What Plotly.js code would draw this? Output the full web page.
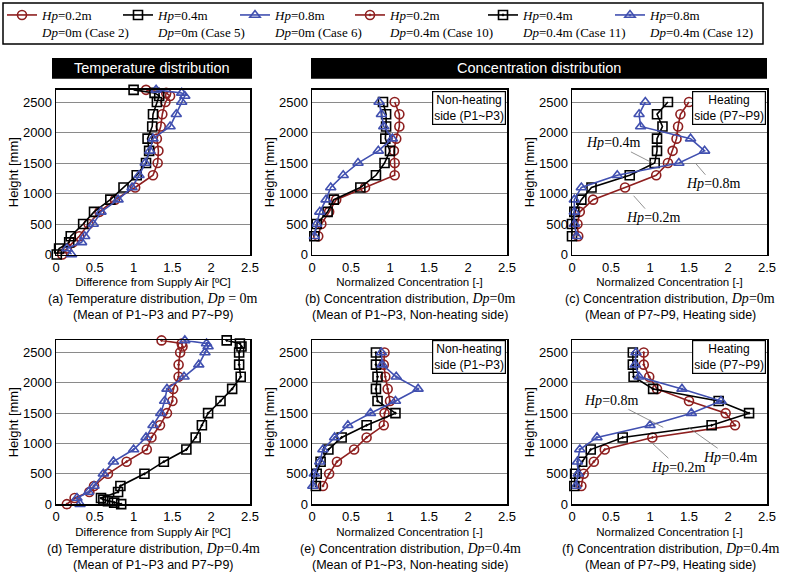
<!DOCTYPE html>
<html><head><meta charset="utf-8">
<script src="https://cdn.plot.ly/plotly-3.0.1.min.js"></script>
<style>html,body{margin:0;padding:0;background:#fff}</style>
</head><body><div id="chart" style="width:789px;height:578px"></div>
<script>
// ---------- DATA ----------
const xTicks = [0, 0.5, 1, 1.5, 2, 2.5];
const yTicks = [0, 500, 1000, 1500, 2000, 2500];
// Temperature heights (mm)
const hT = [0,100,200,300,500,700,900,1100,1300,1500,1700,1900,2100,2300,2500,2600,2650,2700];
const hT11 = [0,25,50,75,100,200,300,500,700,900,1100,1300,1500,1700,1900,2100,2300,2500,2600,2650,2700];
// Concentration heights (mm)
const hC = [300,500,700,900,1100,1300,1500,1700,1900,2100,2300,2500];

// (a) Temperature, Dp=0m
const tempA_case2 = [0.08,0.14,0.22,0.30,0.42,0.56,0.76,1.02,1.25,1.31,1.32,1.30,1.35,1.37,1.41,1.47,1.42,1.16];
const tempA_case5 = [0.01,0.04,0.17,0.19,0.35,0.49,0.70,0.87,1.04,1.16,1.20,1.18,1.24,1.25,1.30,1.33,1.27,1.00];
const tempA_case6 = [0.20,0.14,0.33,0.37,0.48,0.58,0.80,0.98,1.07,1.15,1.21,1.25,1.47,1.55,1.62,1.66,1.62,1.29];
// (b) Concentration non-heating, Dp=0m
const concB_case2 = [0.08,0.12,0.22,0.31,0.68,1.06,1.06,1.05,1.08,1.12,1.12,1.06];
const concB_case5 = [0.03,0.06,0.20,0.28,0.62,0.82,0.93,1.00,0.94,0.95,0.95,0.91];
const concB_case6 = [0.03,0.06,0.10,0.18,0.24,0.40,0.59,0.85,1.03,0.92,0.89,0.86];
// (c) Concentration heating, Dp=0m
const concC_case2 = [0.08,0.07,0.10,0.27,0.68,1.08,1.23,1.29,1.34,1.36,1.39,1.50];
const concC_case5 = [0.00,0.00,0.03,0.12,0.25,0.74,1.06,1.09,1.09,1.16,1.09,1.23];
const concC_case6 = [0.06,0.03,0.03,0.03,0.12,0.58,1.37,1.70,1.52,0.88,0.86,0.94];
// (d) Temperature, Dp=0.4m
const tempD_case10 = [0.14,0.24,0.43,0.49,0.67,0.91,1.17,1.23,1.34,1.43,1.50,1.51,1.58,1.58,1.60,1.63,1.62,1.36];
const tempD_case11 = [0.84,0.75,0.67,0.61,0.58,0.80,0.83,1.14,1.39,1.68,1.80,1.88,1.96,2.12,2.27,2.38,2.36,2.36,2.39,2.37,2.20];
const tempD_case12 = [0.31,0.27,0.42,0.49,0.61,0.74,1.00,1.16,1.25,1.35,1.40,1.43,1.65,1.84,1.92,1.96,1.94,1.66];
// (e) Concentration non-heating, Dp=0.4m
const concE_case10 = [0.14,0.22,0.32,0.54,0.70,0.92,0.93,1.00,0.97,0.94,0.92,0.93];
const concE_case11 = [0.05,0.06,0.11,0.21,0.38,0.70,1.07,0.84,0.82,0.84,0.82,0.82];
const concE_case12 = [0.01,0.03,0.10,0.14,0.29,0.46,0.75,1.07,1.36,1.08,0.90,0.89];
// (f) Concentration heating, Dp=0.4m
const concF_case10 = [0.12,0.15,0.28,0.42,1.03,2.09,1.97,1.50,1.09,0.99,0.92,0.92];
const concF_case11 = [0.03,0.04,0.13,0.24,0.65,1.79,2.27,1.88,1.04,0.79,0.78,0.78];
const concF_case12 = [0.05,0.08,0.07,0.10,0.32,1.00,1.53,1.91,1.41,0.86,0.81,0.82];

// ---------- STYLE ----------
const RED = '#8e1f1f', BLK = '#000000', BLU = '#4150b0';
const W = 789, H = 578;
const px = x => x / W, py = y => 1 - y / H;
const SERIF = 'Liberation Serif, Times New Roman, serif';
const SANS = 'Liberation Sans, Arial, sans-serif';

const series = {
  c2:  {color: RED, symbol: 'circle-open',         name: '<i>Hp</i>=0.2m<br><i>Dp</i>=0m (Case 2)',    lw: 71},
  c5:  {color: BLK, symbol: 'square-open',         name: '<i>Hp</i>=0.4m<br><i>Dp</i>=0m (Case 5)',    lw: 72},
  c6:  {color: BLU, symbol: 'triangle-up-open',    name: '<i>Hp</i>=0.8m<br><i>Dp</i>=0m (Case 6)',    lw: 70},
  c10: {color: RED, symbol: 'circle-open-dot',     name: '<i>Hp</i>=0.2m<br><i>Dp</i>=0.4m (Case 10)', lw: 88},
  c11: {color: BLK, symbol: 'square-open-dot',     name: '<i>Hp</i>=0.4m<br><i>Dp</i>=0.4m (Case 11)', lw: 82},
  c12: {color: BLU, symbol: 'triangle-up-open-dot',name: '<i>Hp</i>=0.8m<br><i>Dp</i>=0.4m (Case 12)', lw: 105}
};

function tr(key, x, y, ax, show) {
  const s = series[key];
  return {
    type: 'scatter', mode: 'lines+markers', x: x, y: y,
    xaxis: 'x' + (ax === 1 ? '' : ax), yaxis: 'y' + (ax === 1 ? '' : ax),
    name: s.name, legendgroup: key, showlegend: !!show, legendwidth: s.lw,
    line: {color: s.color, width: 1.6},
    marker: {symbol: s.symbol, size: 9, color: s.color, line: {color: s.color, width: 1.6}},
    cliponaxis: false, hoverinfo: 'skip'
  };
}

const data = [
  tr('c2', tempA_case2, hT, 1, true),
  tr('c5', tempA_case5, hT, 1, true),
  tr('c6', tempA_case6, hT, 1, true),
  tr('c10', tempD_case10, hT, 4, true),
  tr('c11', tempD_case11, hT11, 4, true),
  tr('c12', tempD_case12, hT, 4, true),
  tr('c2', concB_case2, hC, 2), tr('c5', concB_case5, hC, 2), tr('c6', concB_case6, hC, 2),
  tr('c2', concC_case2, hC, 3), tr('c5', concC_case5, hC, 3), tr('c6', concC_case6, hC, 3),
  tr('c10', concE_case10, hC, 5), tr('c11', concE_case11, hC, 5), tr('c12', concE_case12, hC, 5),
  tr('c10', concF_case10, hC, 6), tr('c11', concF_case11, hC, 6), tr('c12', concF_case12, hC, 6)
];

// ---------- LAYOUT ----------
const colX = [[56, 250], [312, 507], [572, 767]];
const rowY = [[89, 254], [340, 504]];
const xTitles = ['Difference from Supply Air [ºC]', 'Normalized Concentration [-]', 'Normalized Concentration [-]'];

const layout = {
  width: W, height: H, autosize: false,
  margin: {l: 0, r: 0, t: 0, b: 0},
  paper_bgcolor: '#fff', plot_bgcolor: '#fff',
  font: {family: SANS, color: '#000', size: 13},
  showlegend: true,
  legend: {
    orientation: 'h', x: px(2), y: py(-1.5), xanchor: 'left', yanchor: 'top',
    borderwidth: 0, bgcolor: 'rgba(255,255,255,0)',
    font: {family: SERIF, size: 13, color: '#000'},
    valign: 'top', itemwidth: 30, tracegroupgap: 0
  },
  shapes: [], annotations: []
};

for (let r = 0; r < 2; r++) {
  for (let c = 0; c < 3; c++) {
    const i = r * 3 + c + 1;
    const sx = i === 1 ? '' : String(i);
    layout['xaxis' + sx] = {
      domain: [px(colX[c][0]), px(colX[c][1])], anchor: 'y' + sx,
      range: [0, 2.5], tickvals: xTicks, ticktext: xTicks.map(String),
      showline: true, mirror: true, linecolor: '#000', linewidth: 1.5,
      showgrid: false, zeroline: false, ticks: '',
      tickfont: {family: SANS, size: 13},
      title: {text: xTitles[c], font: {family: SANS, size: 11.5}, standoff: 4}
    };
    layout['yaxis' + sx] = {
      domain: [py(rowY[r][1]), py(rowY[r][0])], anchor: 'x' + sx,
      range: [0, 2700], tickvals: yTicks, ticktext: yTicks.map(String),
      showline: true, mirror: true, linecolor: '#000', linewidth: 1.5,
      showgrid: true, gridcolor: '#8a8a8a', gridwidth: 1, zeroline: false, ticks: '',
      tickfont: {family: SANS, size: 13},
      title: {text: 'Height [mm]', font: {family: SANS, size: 13}, standoff: 1}
    };
  }
}

// Legend frame
layout.shapes.push({type: 'rect', xref: 'paper', yref: 'paper', x0: px(3), x1: px(763), y0: py(43), y1: py(2), line: {color: '#000', width: 1.5}, fillcolor: 'rgba(0,0,0,0)'});
// Header boxes
layout.shapes.push({type: 'rect', xref: 'paper', yref: 'paper', x0: px(52), x1: px(252), y0: py(78), y1: py(57), fillcolor: '#000', line: {width: 0}});
layout.shapes.push({type: 'rect', xref: 'paper', yref: 'paper', x0: px(311), x1: px(767), y0: py(78), y1: py(57), fillcolor: '#000', line: {width: 0}});
layout.annotations.push({xref: 'paper', yref: 'paper', x: px(152), y: py(67.5), xanchor: 'center', yanchor: 'middle', text: 'Temperature distribution', showarrow: false, font: {family: SANS, size: 14.5, color: '#fff'}});
layout.annotations.push({xref: 'paper', yref: 'paper', x: px(539), y: py(67.5), xanchor: 'center', yanchor: 'middle', text: 'Concentration distribution', showarrow: false, font: {family: SANS, size: 14.5, color: '#fff'}});

// Corner boxes
function cornerBox(xr, ytop, line1, line2) {
  layout.annotations.push({xref: 'paper', yref: 'paper', x: px(xr), y: py(ytop), xanchor: 'right', yanchor: 'top',
    text: line1 + '<br>' + line2, showarrow: false, align: 'center',
    bordercolor: '#000', borderwidth: 1.2, borderpad: 1, bgcolor: '#fff',
    font: {family: SANS, size: 12}});
}
cornerBox(506, 90, 'Non-heating', 'side (P1~P3)');
cornerBox(766, 90, 'Heating', 'side (P7~P9)');
cornerBox(506, 340, 'Non-heating', 'side (P1~P3)');
cornerBox(766, 340, 'Heating', 'side (P7~P9)');

// Captions
const sp = '<span style="font-family:Liberation Serif;font-size:14px">';
const dp0 = sp + '<i>Dp</i>=0m</span>';
const dp4 = sp + '<i>Dp</i>=0.4m</span>';
const caps = [
  [153, 298, '(a) Temperature distribution, ' + sp + '<i>Dp</i> = 0m</span>', '(Mean of P1~P3 and P7~P9)'],
  [410, 298, '(b) Concentration distribution, ' + dp0, '(Mean of P1~P3, Non-heating side)'],
  [670, 298, '(c) Concentration distribution, ' + dp0, '(Mean of P7~P9, Heating side)'],
  [153, 548, '(d) Temperature distribution, ' + dp4, '(Mean of P1~P3 and P7~P9)'],
  [410, 548, '(e) Concentration distribution, ' + dp4, '(Mean of P1~P3, Non-heating side)'],
  [670, 548, '(f) Concentration distribution, ' + dp4, '(Mean of P7~P9, Heating side)']
];
caps.forEach(c => {
  layout.annotations.push({xref: 'paper', yref: 'paper', x: px(c[0]), y: py(c[1]), xanchor: 'center', yanchor: 'middle', text: c[2], showarrow: false, font: {family: SANS, size: 12.5}});
  layout.annotations.push({xref: 'paper', yref: 'paper', x: px(c[0]), y: py(c[1] + 16.5), xanchor: 'center', yanchor: 'middle', text: c[3], showarrow: false, font: {family: SANS, size: 12.5}});
});

// Leader labels
function lab(ax, text, tipX, tipY, tX, tY) {
  const s = ax === 1 ? '' : String(ax);
  layout.annotations.push({xref: 'x' + s, yref: 'y' + s, axref: 'x' + s, ayref: 'y' + s,
    x: tipX, y: tipY, ax: tX, ay: tY, text: text, showarrow: true, arrowhead: 0,
    arrowwidth: 0.8, arrowcolor: '#777', standoff: 0,
    font: {family: SERIF, size: 14}});
}
lab(3, '<i>Hp</i>=0.4m', 1.03, 1503, 0.53, 1830);
lab(3, '<i>Hp</i>=0.8m', 1.59, 1487, 1.81, 1160);
lab(3, '<i>Hp</i>=0.2m', 0.79, 964, 1.04, 605);
lab(6, '<i>Hp</i>=0.8m', 1.17, 1266, 0.50, 1711);
lab(6, '<i>Hp</i>=0.4m', 1.49, 1266, 2.03, 773);
lab(6, '<i>Hp</i>=0.2m', 1.03, 1003, 1.36, 608);

Plotly.newPlot('chart', data, layout, {staticPlot: true, displayModeBar: false});
</script></body></html>
